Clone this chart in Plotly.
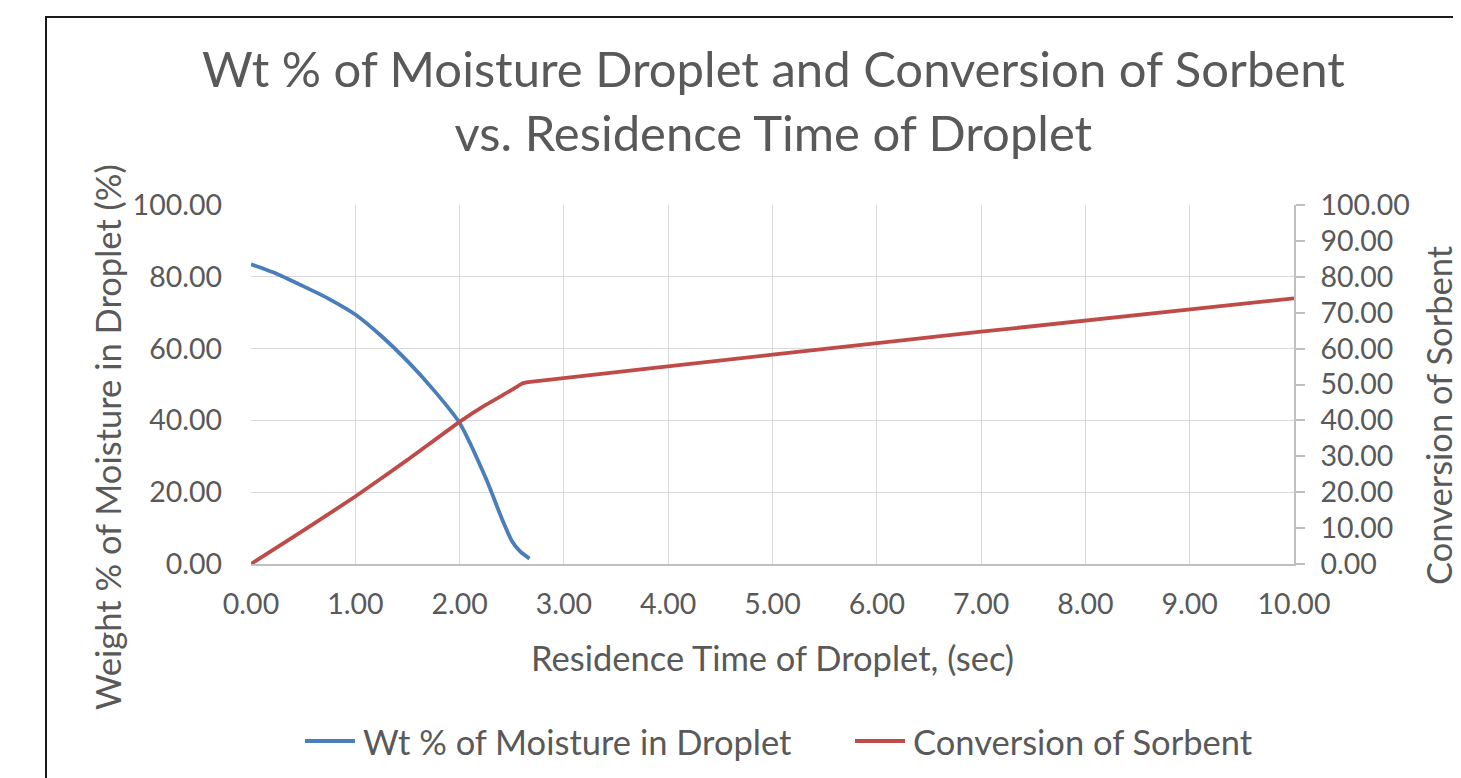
import plotly.graph_objects as go

# Data
time_moist = [0.0, 0.25, 0.5, 0.75, 1.0, 1.25, 1.5, 1.75, 2.0, 2.25, 2.4, 2.5, 2.58, 2.67]
moisture = [83.5, 80.8, 77.4, 73.8, 69.5, 63.5, 56.5, 48.5, 39.3, 24.0, 13.0, 6.5, 3.5, 1.5]

time_conv = [0.0, 0.5, 1.0, 1.5, 2.0, 2.25, 2.5, 2.6, 2.7, 5.0, 7.0, 10.0]
conversion = [0.0, 9.3, 18.8, 29.0, 39.6, 44.3, 48.5, 50.3, 50.8, 58.3, 64.7, 74.0]

x_ticks = [0, 1, 2, 3, 4, 5, 6, 7, 8, 9, 10]

series_names = ["Wt % of Moisture in Droplet", "Conversion of Sorbent"]
series_colors = ["#4a7ebb", "#be4b48"]

FONT = "Lato"
GREY = "#595959"

# plot area in figure pixels (page body has an 8px margin)
L, T, R, B = 243, 197, 1286, 556
PW, PH = R - L, B - T


def px(xf):
    return (xf - L) / PW


def py(yf):
    return (B - yf) / PH


fig = go.Figure()
fig.add_trace(go.Scatter(x=time_moist, y=moisture, mode="lines",
                         name=series_names[0],
                         line=dict(color=series_colors[0], width=3.8, shape="spline", smoothing=0.6)))
fig.add_trace(go.Scatter(x=time_conv, y=conversion, mode="lines",
                         name=series_names[1], yaxis="y2",
                         line=dict(color=series_colors[1], width=3.8, shape="spline", smoothing=0.4)))

fig.update_layout(
    width=1461, height=778,
    margin=dict(l=L, r=1461 - R, t=T, b=778 - B, autoexpand=False),
    paper_bgcolor="white", plot_bgcolor="white",
    font=dict(family=FONT, color=GREY),
    showlegend=False,
    xaxis=dict(range=[0, 10], tickvals=x_ticks, tickformat=".2f",
               showgrid=True, gridcolor="#d9d9d9", gridwidth=1.3,
               showline=True, linecolor="#bfbfbf", linewidth=1.5,
               zeroline=False, ticks="", tickfont=dict(size=28.5, color=GREY),
               ticklabelstandoff=14),
    yaxis=dict(range=[0, 100], dtick=20, tickformat=".2f",
               showgrid=True, gridcolor="#d9d9d9", gridwidth=1.3,
               showline=False, zeroline=False, ticks="",
               tickfont=dict(size=28.5, color=GREY), ticklabelstandoff=28),
    yaxis2=dict(range=[0, 100], dtick=10, tickformat=".2f", overlaying="y", side="right",
                showgrid=False, zeroline=False, showline=True, linecolor="#bfbfbf", linewidth=1.5,
                ticks="outside", ticklen=9, tickcolor="#bfbfbf", tickwidth=1.5,
                tickfont=dict(size=28.5, color=GREY), ticklabelstandoff=10),
)

# Title
fig.add_annotation(text="Wt % of Moisture Droplet and Conversion of Sorbent<br>vs. Residence Time of Droplet",
                   xref="paper", yref="paper", x=px(765), y=py(92), xanchor="center", yanchor="middle",
                   showarrow=False, font=dict(size=49, color=GREY, family=FONT))

# Axis titles
fig.add_annotation(text="Residence Time of Droplet, (sec)", xref="paper", yref="paper",
                   x=px(764), y=py(649), yanchor="middle", showarrow=False,
                   font=dict(size=34.5, color=GREY, family=FONT))
fig.add_annotation(text="Weight % of Moisture in Droplet (%)", xref="paper", yref="paper",
                   x=px(99), y=py(429), xanchor="center", yanchor="middle", textangle=-90, showarrow=False,
                   font=dict(size=34.5, color=GREY, family=FONT))
fig.add_annotation(text="Conversion of Sorbent", xref="paper", yref="paper",
                   x=px(1430), y=py(407), xanchor="center", yanchor="middle", textangle=-90, showarrow=False,
                   font=dict(size=34.5, color=GREY, family=FONT))

# Legend (Excel style: long line key followed by the series name)
legend_starts = [297, 847]
for name, color, x0 in zip(series_names, series_colors, legend_starts):
    fig.add_shape(type="line", xref="paper", yref="paper",
                  x0=px(x0), x1=px(x0 + 50), y0=py(733), y1=py(733),
                  line=dict(color=color, width=3.8))
    fig.add_annotation(text=name, xref="paper", yref="paper", x=px(x0 + 56), y=py(733),
                       xanchor="left", yanchor="middle", showarrow=False,
                       font=dict(size=34.5, color=GREY, family=FONT))

# Chart border (cropped on right and bottom in the reference)
fig.add_shape(type="rect", xref="paper", yref="paper",
              x0=px(38), x1=px(1475), y0=py(800), y1=py(9),
              line=dict(color="#1a1a1a", width=2), layer="below")

fig.write_html("out.html")
